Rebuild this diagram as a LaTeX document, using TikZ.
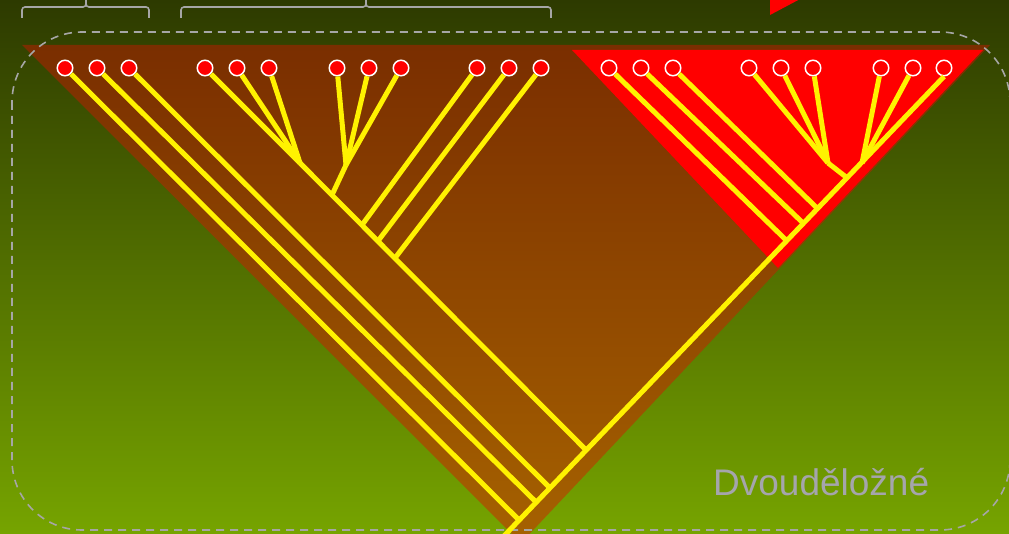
\documentclass[tikz,border=0pt]{standalone}
\usepackage{fontspec}
\setsansfont{Liberation Sans}
\definecolor{bgtop}{RGB}{45,58,0}
\definecolor{bgbottom}{RGB}{118,164,0}
\definecolor{browntop}{RGB}{122,46,0}
\definecolor{brownbottom}{RGB}{166,98,0}
\definecolor{labelgray}{RGB}{165,165,172}
\begin{document}
\begin{tikzpicture}[
    x=1pt, y=-1pt,
    font=\sffamily,
    leaf/.style={circle, draw=white, fill=red, line width=1.5pt, minimum size=15.5pt, inner sep=0pt},
    branch/.style={draw=yellow, line width=5pt},
    bracket/.style={draw=gray!70, line width=1.6pt, rounded corners=3pt},
    frame/.style={draw=gray!70, line width=1.6pt, dash pattern=on 8pt off 6pt, rounded corners=70pt}
]
\useasboundingbox (0,0) rectangle (1009,534);

% --- Background ---
\shade [top color=bgtop, bottom color=bgbottom] (0,0) rectangle (1009,534);
\shade [top color=browntop, bottom color=brownbottom] (22,45) -- (990,45) -- (521,543) -- cycle;
\fill [red] (572,50) -- (983,50) -- (778,268) -- cycle;
\fill [red] (770,15) -- (770,-2) -- (802,-2) -- cycle;

% Frame and brackets
\draw [frame] (12,32) rectangle (1010,530);
\draw [bracket] (22,18) |- (86,7) -- (86,-2);
\draw [bracket] (149,18) |- (86,7) -- (86,-2);
\draw [bracket] (181,18) |- (366,7) -- (366,-2);
\draw [bracket] (551,18) |- (366,7) -- (366,-2);

% --- Leaves ---
% Brown part
\node (a1) at (65,68) [leaf] {};
\node (a2) at (97,68) [leaf] {};
\node (a3) at (129,68) [leaf] {};
\node (b1) at (205,68) [leaf] {};
\node (b2) at (237,68) [leaf] {};
\node (b3) at (269,68) [leaf] {};
\node (c1) at (337,68) [leaf] {};
\node (c2) at (369,68) [leaf] {};
\node (c3) at (401,68) [leaf] {};
\node (d1) at (477,68) [leaf] {};
\node (d2) at (509,68) [leaf] {};
\node (d3) at (541,68) [leaf] {};

% Red part
\node (e1) at (609,68) [leaf] {};
\node (e2) at (641,68) [leaf] {};
\node (e3) at (673,68) [leaf] {};
\node (f1) at (749,68) [leaf] {};
\node (f2) at (781,68) [leaf] {};
\node (f3) at (813,68) [leaf] {};
\node (g1) at (881,68) [leaf] {};
\node (g2) at (913,68) [leaf] {};
\node (g3) at (944,68) [leaf] {};

% --- Junctions ---
\coordinate (root) at (503,537);
\coordinate (ja1) at (519,520);
\coordinate (ja2) at (536,502);
\coordinate (ja3) at (550,488);
\coordinate (jx) at (586,450);
\coordinate (jb) at (300,163);
\coordinate (jc) at (346,165);
\coordinate (jc0) at (332,195);
\coordinate (jd1) at (362,225);
\coordinate (jd2) at (378,241);
\coordinate (jd3) at (395,258);
\coordinate (je1) at (786,240);
\coordinate (je2) at (803,223);
\coordinate (je3) at (817,208);
\coordinate (jf) at (828,163);
\coordinate (jf0) at (846,177);
\coordinate (jg) at (862,163);

% --- Branches ---
\draw [branch] (g3.south) -- (root);
\draw [branch] (a1) -- (ja1);
\draw [branch] (a2) -- (ja2);
\draw [branch] (a3) -- (ja3);
\draw [branch] (jb) -- (jx);
\draw [branch] (b1) -- (jb);
\draw [branch] (b2) -- (jb);
\draw [branch] (b3) -- (jb);
\draw [branch] (c1) -- (jc);
\draw [branch] (c2) -- (jc);
\draw [branch] (c3) -- (jc);
\draw [branch] (jc) -- (jc0);
\draw [branch] (d1) -- (jd1);
\draw [branch] (d2) -- (jd2);
\draw [branch] (d3) -- (jd3);

\draw [branch] (e1) -- (je1);
\draw [branch] (e2) -- (je2);
\draw [branch] (e3) -- (je3);
\draw [branch] (f1) -- (jf);
\draw [branch] (f2) -- (jf);
\draw [branch] (f3) -- (jf);
\draw [branch] (jf) -- (jf0);
\draw [branch] (g1) -- (jg);
\draw [branch] (g2) -- (jg);

% --- Label ---
\node (dicot) at (713,495) [anchor=base west, inner sep=0pt, text=labelgray, font=\sffamily\fontsize{37}{42}\selectfont] {Dvouděložné};

\end{tikzpicture}
\end{document}
